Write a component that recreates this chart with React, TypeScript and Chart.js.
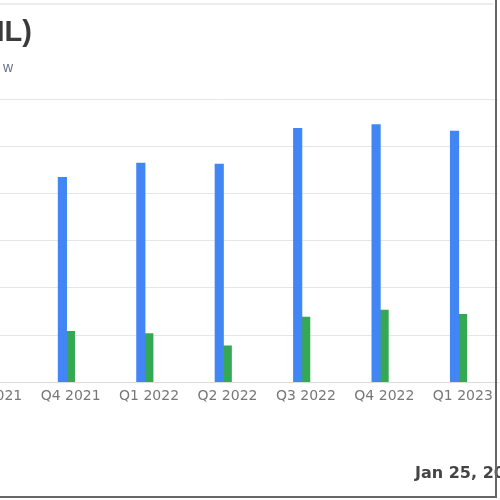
import React, { useEffect, useRef } from "react";
import { Chart, registerables } from "chart.js";

Chart.register(...registerables);

const categories = ["Q3 2021", "Q4 2021", "Q1 2022", "Q2 2022", "Q3 2022", "Q4 2022", "Q1 2023"];
const revenue: (number | null)[] = [null, 434, 464, 462, 538, 546, 532];
const netIncome: (number | null)[] = [null, 108, 103, 77, 138, 153, 144];
const yMin = 0;
const yMax = 600;
const yStep = 100;

const titleText = "IL)";
const subtitleText = "w";
const dateText = "Jan 25, 2024";

export default function App() {
  const canvasRef = useRef<HTMLCanvasElement | null>(null);

  useEffect(() => {
    const canvas = canvasRef.current;
    if (!canvas) return;
    const chart = new Chart(canvas, {
      type: "bar",
      data: {
        labels: categories,
        datasets: [
          {
            label: "Revenue",
            data: revenue,
            backgroundColor: "#4285F4",
            barThickness: 8.5,
          },
          {
            label: "Net Income",
            data: netIncome,
            backgroundColor: "#34A853",
            barThickness: 8,
          },
        ],
      },
      options: {
        animation: false,
        responsive: false,
        devicePixelRatio: 1,
        layout: { padding: { left: 149, right: 2, top: 99, bottom: 89 } },
        plugins: {
          legend: { display: false },
          title: { display: false },
          tooltip: { enabled: false },
        },
        scales: {
          x: {
            grid: { display: false, drawTicks: false },
            border: { display: true, color: "#dcdcdc", width: 1 },
            ticks: {
              color: "#777",
              font: { family: "DejaVu Sans", size: 14 },
              padding: 6,
              labelOffset: 4,
              maxRotation: 0,
              autoSkip: false,
            },
          },
          y: {
            min: yMin,
            max: yMax,
            grid: { color: "#e6e6e6", drawTicks: false, lineWidth: 1 },
            border: { display: false },
            ticks: { display: false, stepSize: yStep },
          },
        },
      },
    });
    return () => chart.destroy();
  }, []);

  return (
    <div
      style={{
        position: "absolute",
        left: 0,
        top: 0,
        width: 500,
        height: 500,
        overflow: "hidden",
        background: "#fff",
        fontFamily: "Liberation Sans, Arial, sans-serif",
      }}
    >
      <canvas
        ref={canvasRef}
        width={700}
        height={500}
        style={{ position: "absolute", left: -200, top: 0, width: 700, height: 500 }}
      />
      <div style={{ position: "absolute", left: 0, top: 3, width: 493, height: 2, background: "#ececec" }} />
      <div
        style={{
          position: "absolute",
          right: 468,
          top: 11,
          whiteSpace: "nowrap",
          fontSize: 29,
          fontWeight: 700,
          color: "#3a3a3a",
          lineHeight: "40px",
        }}
      >
        {titleText}
      </div>
      <div
        style={{
          position: "absolute",
          right: 487,
          top: 58,
          whiteSpace: "nowrap",
          fontSize: 14,
          color: "#6a6f8a",
          lineHeight: "18px",
        }}
      >
        {subtitleText}
      </div>
      <div
        style={{
          position: "absolute",
          left: 415,
          top: 463,
          whiteSpace: "nowrap",
          fontSize: 16,
          fontWeight: 700,
          color: "#444",
          fontFamily: "DejaVu Sans",
          lineHeight: "20px",
        }}
      >
        {dateText}
      </div>
      <div
        style={{
          position: "absolute",
          left: 0,
          top: 0,
          width: 495,
          height: 496,
          borderRight: "2px solid #666",
          borderBottom: "2px solid #666",
        }}
      />
    </div>
  );
}
